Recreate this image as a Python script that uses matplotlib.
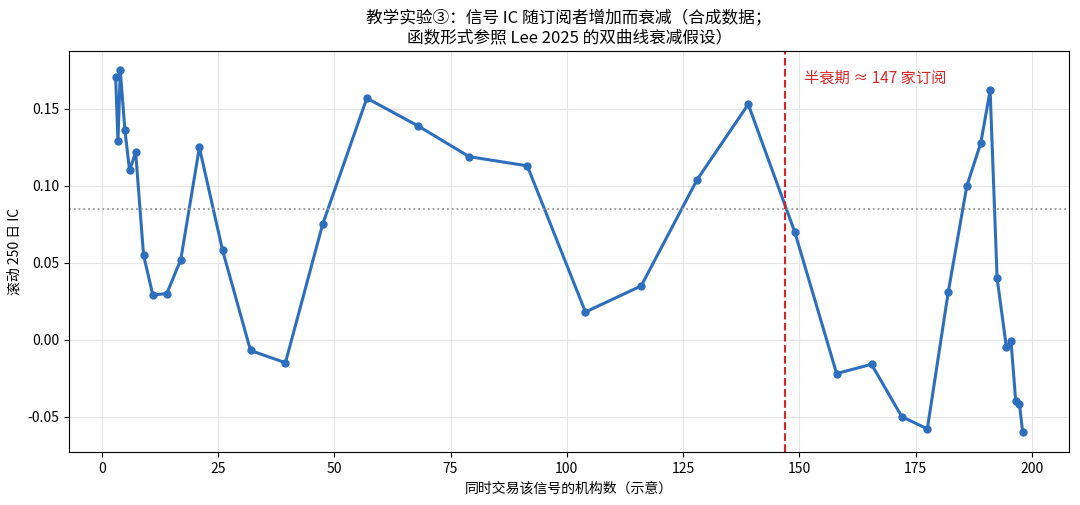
import matplotlib
matplotlib.use("Agg")
import matplotlib.pyplot as plt

plt.rcParams['font.family'] = ['Noto Sans CJK SC', 'DejaVu Sans']
plt.rcParams['axes.unicode_minus'] = False

x = [3, 3.5, 4, 5, 6, 7.3, 9, 11, 14, 17, 21, 26, 32, 39.5, 47.5, 57, 68, 79, 91.5, 104, 116, 128, 139,
     149, 158, 165.5, 172, 177.5, 182, 186, 189, 191, 192.5, 194.5, 195.5, 196.5, 197.3, 198]
y = [0.171, 0.129, 0.175, 0.136, 0.110, 0.122, 0.055, 0.029, 0.030, 0.052, 0.125, 0.058, -0.007, -0.015,
     0.075, 0.157, 0.139, 0.119, 0.113, 0.018, 0.035, 0.104, 0.153, 0.070, -0.022, -0.016, -0.050, -0.058,
     0.031, 0.100, 0.128, 0.162, 0.040, -0.005, -0.001, -0.040, -0.042, -0.060]
ref_level = 0.085
half_life = 147

fig, ax = plt.subplots(figsize=(10.8, 5.05), dpi=100)
ax.plot(x, y, color='#2e6fbd', lw=2.2, marker='o', ms=5)
ax.axhline(ref_level, color='#999999', ls=':', lw=1.3)
ax.axvline(half_life, color='#d62728', ls='--', lw=1.5)
ax.text(151, 0.17, '半衰期 ≈ 147 家订阅', color='#d62728', fontsize=11, va='center')
ax.set_xlim(-7, 208)
ax.set_ylim(-0.073, 0.188)
ax.grid(True, color='#e6e6e6', lw=0.8)
ax.set_xlabel('同时交易该信号的机构数（示意）', fontsize=10)
ax.set_ylabel('滚动 250 日 IC', fontsize=10)
ax.set_title('教学实验③：信号 IC 随订阅者增加而衰减（合成数据；\n函数形式参照 Lee 2025 的双曲线衰减假设）', fontsize=12)
fig.subplots_adjust(left=0.064, right=0.99, top=0.9, bottom=0.105)
fig.savefig('out.png')
